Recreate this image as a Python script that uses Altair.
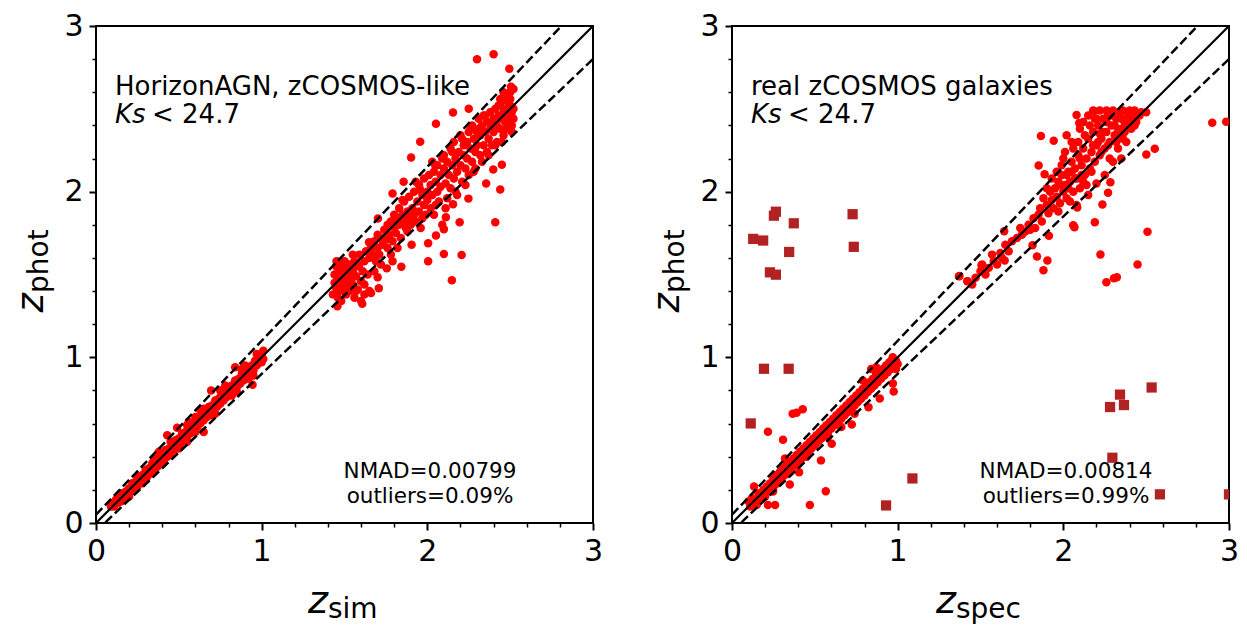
import altair as alt
import pandas as pd

FONT = "DejaVu Sans"
RED = "#ff0000"
DARK = "#b22222"

# ---------------- data ----------------
left_low = [
    (0.09, 0.10), (0.10, 0.12), (0.11, 0.10), (0.12, 0.14), (0.13, 0.12), (0.14, 0.15), (0.15, 0.13),
    (0.16, 0.17), (0.17, 0.15), (0.18, 0.19), (0.19, 0.17), (0.20, 0.21), (0.21, 0.19), (0.22, 0.24),
    (0.23, 0.21), (0.24, 0.25), (0.25, 0.22), (0.26, 0.28), (0.27, 0.25), (0.28, 0.29), (0.29, 0.27),
    (0.30, 0.32), (0.31, 0.28), (0.32, 0.33), (0.33, 0.30), (0.34, 0.36), (0.35, 0.32), (0.36, 0.38),
    (0.37, 0.34), (0.38, 0.40), (0.39, 0.36), (0.40, 0.41), (0.41, 0.38), (0.42, 0.44), (0.43, 0.40),
    (0.44, 0.45), (0.45, 0.42), (0.46, 0.48), (0.47, 0.44), (0.48, 0.50), (0.49, 0.46), (0.50, 0.51),
    (0.51, 0.48), (0.52, 0.54), (0.53, 0.50), (0.54, 0.55), (0.55, 0.52), (0.56, 0.58), (0.57, 0.54),
    (0.58, 0.59), (0.59, 0.56), (0.60, 0.62), (0.61, 0.58), (0.62, 0.63), (0.63, 0.60), (0.64, 0.66),
    (0.65, 0.62), (0.66, 0.67), (0.67, 0.64), (0.68, 0.70), (0.69, 0.66), (0.70, 0.71), (0.71, 0.68),
    (0.72, 0.74), (0.73, 0.70), (0.74, 0.75), (0.75, 0.72), (0.76, 0.78), (0.77, 0.74), (0.78, 0.79),
    (0.79, 0.76), (0.80, 0.82), (0.81, 0.78), (0.82, 0.83), (0.83, 0.80), (0.84, 0.86), (0.85, 0.82),
    (0.86, 0.87), (0.87, 0.84), (0.88, 0.90), (0.89, 0.86), (0.90, 0.91), (0.91, 0.88), (0.92, 0.94),
    (0.93, 0.90), (0.94, 0.95), (0.95, 0.92), (0.96, 0.98), (0.97, 0.95), (0.98, 1.00), (0.99, 0.97),
    (1.00, 1.02), (1.01, 0.99), (1.00, 0.97), (1.01, 1.04),
    (0.65, 0.55), (0.945, 0.835), (0.84, 0.94), (0.43, 0.53), (0.49, 0.575), (0.695, 0.80),
    (0.755, 0.765), (0.56, 0.61), (0.60, 0.64), (0.75, 0.80), (0.90, 0.95), (0.55, 0.49),
    (0.72, 0.66), (0.50, 0.45), (0.30, 0.26), (0.20, 0.16), (0.38, 0.43), (0.63, 0.68),
    (0.82, 0.77), (0.92, 0.87), (0.15, 0.18), (0.25, 0.28), (0.35, 0.39), (0.45, 0.49), (0.55, 0.59),
    (0.65, 0.69), (0.78, 0.83), (0.88, 0.93), (0.97, 1.02), (0.28, 0.24), (0.40, 0.36), (0.60, 0.55),
    (0.70, 0.65), (0.85, 0.79), (0.95, 0.89),
]

left_mid = [
    (1.43, 1.38), (1.44, 1.45), (1.44, 1.50), (1.45, 1.42), (1.45, 1.55), (1.46, 1.36), (1.46, 1.47),
    (1.47, 1.40), (1.47, 1.52), (1.48, 1.44), (1.48, 1.34), (1.49, 1.48), (1.50, 1.42), (1.50, 1.53),
    (1.51, 1.38), (1.51, 1.46), (1.52, 1.50), (1.52, 1.43), (1.53, 1.56), (1.53, 1.40), (1.54, 1.47),
    (1.55, 1.52), (1.55, 1.44), (1.56, 1.36), (1.56, 1.58), (1.57, 1.49), (1.58, 1.41), (1.58, 1.55),
    (1.59, 1.62), (1.60, 1.46), (1.60, 1.34), (1.61, 1.52), (1.62, 1.58), (1.62, 1.44), (1.63, 1.64),
    (1.64, 1.50), (1.65, 1.60), (1.65, 1.40),
    (1.66, 1.66), (1.67, 1.62), (1.68, 1.70), (1.69, 1.58), (1.70, 1.74), (1.70, 1.66), (1.71, 1.62),
    (1.72, 1.72), (1.73, 1.68), (1.74, 1.77), (1.75, 1.71), (1.76, 1.80), (1.76, 1.66), (1.77, 1.74),
    (1.78, 1.82), (1.79, 1.70), (1.80, 1.78), (1.80, 1.86), (1.81, 1.75), (1.82, 1.84), (1.83, 1.80),
    (1.83, 1.90), (1.84, 1.72), (1.85, 1.86), (1.86, 1.82), (1.86, 1.94), (1.87, 1.78), (1.88, 1.88),
    (1.89, 1.84), (1.89, 1.97), (1.90, 1.80), (1.91, 1.90), (1.92, 1.86), (1.92, 2.00), (1.93, 1.82),
    (1.94, 1.94), (1.95, 1.88), (1.95, 2.04), (1.96, 1.78), (1.97, 1.98), (1.98, 1.92), (1.98, 2.08),
    (1.99, 1.86), (2.00, 2.00), (2.00, 1.95),
]

left_high = [
    (2.01, 2.10), (2.02, 1.90), (2.02, 2.04), (2.03, 1.98), (2.04, 2.12), (2.04, 1.86), (2.05, 2.06),
    (2.06, 2.00), (2.06, 2.16), (2.07, 1.94), (2.08, 2.10), (2.08, 2.03), (2.09, 1.80), (2.10, 2.14),
    (2.10, 2.22), (2.11, 2.05), (2.12, 2.18), (2.12, 1.96), (2.13, 2.10), (2.14, 2.26), (2.14, 2.02),
    (2.15, 2.16), (2.16, 2.08), (2.16, 2.30), (2.17, 2.20), (2.18, 2.12), (2.18, 1.98), (2.19, 2.24),
    (2.20, 2.16), (2.20, 2.34), (2.21, 2.06), (2.22, 2.22), (2.22, 2.28), (2.23, 2.14), (2.24, 2.30),
    (2.24, 2.20), (2.25, 2.36), (2.25, 2.10), (2.26, 2.26), (2.27, 2.18), (2.27, 2.40), (2.28, 2.32),
    (2.29, 2.24), (2.29, 2.14), (2.30, 2.36), (2.30, 2.28), (2.31, 2.44), (2.32, 2.22), (2.32, 2.34),
    (2.33, 2.40), (2.34, 2.28), (2.34, 2.46), (2.35, 2.36), (2.36, 2.24), (2.36, 2.42), (2.37, 2.32),
    (2.38, 2.48), (2.38, 2.38), (2.39, 2.28), (2.40, 2.44), (2.40, 2.36), (2.41, 2.50), (2.42, 2.40),
    (2.42, 2.30), (2.43, 2.46), (2.44, 2.38), (2.44, 2.52), (2.45, 2.44), (2.46, 2.34), (2.46, 2.48),
    (2.47, 2.42), (2.47, 2.55), (2.48, 2.38), (2.48, 2.50), (2.49, 2.46), (2.49, 2.58), (2.50, 2.42),
    (2.50, 2.52), (2.51, 2.48), (2.51, 2.36), (2.52, 2.50), (2.52, 2.44), (2.50, 2.60), (2.49, 2.54),
]

left_spread = [
    (1.85, 1.95), (1.88, 1.76), (1.93, 2.06), (1.97, 1.84), (2.03, 2.18), (2.05, 1.92), (2.09, 2.20),
    (2.11, 1.90), (2.15, 2.24), (2.17, 2.00), (2.21, 2.32), (2.23, 2.04), (2.26, 2.38), (2.28, 2.12),
    (2.31, 2.38), (2.33, 2.18), (2.35, 2.46), (2.37, 2.22), (2.39, 2.42), (2.41, 2.28), (2.43, 2.52),
    (2.45, 2.30), (2.47, 2.46), (2.50, 2.56), (2.51, 2.40), (2.52, 2.62), (2.46, 2.60), (2.44, 2.56),
    (1.55, 1.62), (1.50, 1.58), (1.47, 1.56), (1.57, 1.40), (1.62, 1.38), (1.68, 1.52), (1.72, 1.56),
    (1.78, 1.62), (1.82, 1.66),
]

left_scatter = [
    (2.30, 2.80), (2.40, 2.83), (2.495, 2.742), (2.505, 2.634), (2.25, 2.50), (2.155, 2.478),
    (2.052, 2.41), (1.957, 2.302), (1.902, 2.206), (1.857, 2.06), (1.702, 1.838), (1.648, 1.694),
    (1.843, 1.547), (1.905, 1.68), (2.005, 1.58), (2.10, 1.624), (2.148, 1.465), (2.207, 1.617),
    (2.41, 1.816), (2.44, 2.013), (2.355, 2.05), (2.398, 2.134), (2.45, 2.163), (2.248, 1.958),
    (2.195, 1.816), (2.10, 1.773), (2.155, 1.924), (1.755, 1.537), (1.70, 1.484), (1.707, 1.417),
    (1.66, 1.388), (1.607, 1.323), (1.457, 1.309), (1.452, 1.58), (1.51, 1.537), (1.588, 1.556),
    (1.79, 1.58), (2.005, 1.688), (2.052, 1.736), (2.112, 1.845), (1.79, 1.989), (1.957, 2.013),
    (2.048, 2.158),
]

right_low = [
    (0.10, 0.13), (0.11, 0.10), (0.12, 0.15), (0.13, 0.12), (0.14, 0.14), (0.15, 0.11), (0.16, 0.18),
    (0.17, 0.15), (0.18, 0.17), (0.19, 0.20), (0.20, 0.16), (0.21, 0.22), (0.22, 0.19), (0.23, 0.24),
    (0.24, 0.21), (0.25, 0.27), (0.26, 0.23), (0.27, 0.29), (0.28, 0.25), (0.29, 0.31), (0.30, 0.27),
    (0.31, 0.33), (0.32, 0.29), (0.33, 0.35), (0.34, 0.31), (0.35, 0.37), (0.36, 0.33), (0.37, 0.39),
    (0.38, 0.35), (0.39, 0.41), (0.40, 0.37), (0.41, 0.43), (0.42, 0.39), (0.43, 0.45), (0.44, 0.41),
    (0.45, 0.47), (0.46, 0.43), (0.47, 0.49), (0.48, 0.45), (0.49, 0.51), (0.50, 0.47), (0.51, 0.53),
    (0.52, 0.49), (0.53, 0.55), (0.54, 0.51), (0.55, 0.57), (0.56, 0.53), (0.57, 0.59), (0.58, 0.55),
    (0.59, 0.61), (0.60, 0.57), (0.61, 0.63), (0.62, 0.59), (0.63, 0.65), (0.64, 0.61), (0.65, 0.67),
    (0.66, 0.63), (0.67, 0.69), (0.68, 0.65), (0.69, 0.71), (0.70, 0.67), (0.71, 0.73), (0.72, 0.69),
    (0.73, 0.75), (0.74, 0.71), (0.75, 0.77), (0.76, 0.73), (0.77, 0.79), (0.78, 0.75), (0.79, 0.81),
    (0.80, 0.77), (0.81, 0.83), (0.82, 0.79), (0.83, 0.85), (0.84, 0.81), (0.85, 0.87), (0.86, 0.83),
    (0.87, 0.90), (0.88, 0.85), (0.89, 0.92), (0.90, 0.87), (0.91, 0.93), (0.92, 0.89), (0.93, 0.95),
    (0.94, 0.91), (0.95, 0.97), (0.96, 0.93), (0.97, 0.99), (0.98, 0.95), (0.99, 0.98), (1.00, 0.96),
    (0.97, 1.00), (0.99, 0.93), (0.84, 0.93), (0.87, 0.94),
    (0.976, 0.794), (0.971, 0.842), (0.892, 0.751), (0.824, 0.698), (0.723, 0.594), (0.602, 0.479),
    (0.537, 0.378), (0.566, 0.192), (0.47, 0.108), (0.349, 0.233), (0.405, 0.306), (0.366, 0.659),
    (0.39, 0.666), (0.427, 0.686), (0.217, 0.551), (0.308, 0.503), (0.133, 0.221), (0.217, 0.108),
    (0.26, 0.108), (0.248, 0.19), (0.277, 0.269), (0.66, 0.58), (0.74, 0.66), (0.45, 0.40),
    (0.58, 0.52), (0.32, 0.39), (0.79, 0.86),
]

right_high = [
    (1.37, 1.49), (1.42, 1.46), (1.45, 1.44), (1.47, 1.48), (1.50, 1.52), (1.51, 1.56), (1.53, 1.50),
    (1.55, 1.54), (1.57, 1.62), (1.58, 1.58), (1.60, 1.56), (1.62, 1.63), (1.63, 1.60), (1.65, 1.68),
    (1.67, 1.64), (1.69, 1.70), (1.72, 1.72), (1.74, 1.78), (1.75, 1.74), (1.77, 1.76), (1.79, 1.80),
    (1.80, 1.77), (1.82, 1.84), (1.83, 1.78), (1.85, 1.86), (1.86, 1.90), (1.87, 1.82), (1.88, 1.96),
    (1.90, 1.92), (1.91, 1.87), (1.92, 2.00), (1.93, 1.95), (1.94, 1.90), (1.95, 2.02), (1.96, 1.97),
    (1.97, 2.06), (1.98, 1.93), (1.99, 2.10), (2.00, 2.00), (2.01, 2.04), (2.02, 1.96), (2.03, 2.12),
    (2.04, 2.06), (2.05, 2.18), (2.06, 2.00), (2.07, 2.14), (2.08, 2.08), (2.09, 2.22), (2.10, 2.02),
    (2.11, 2.16), (2.12, 2.26), (2.13, 2.10), (2.14, 2.20), (2.15, 2.32), (2.16, 2.14), (2.17, 2.24),
    (2.18, 2.36), (2.18, 2.49), (2.19, 2.18), (2.20, 2.28), (2.21, 2.40), (2.22, 2.22), (2.22, 2.49),
    (2.23, 2.32), (2.24, 2.44), (2.25, 2.26), (2.26, 2.36), (2.26, 2.49), (2.27, 2.46), (2.28, 2.30),
    (2.29, 2.40), (2.30, 2.49), (2.31, 2.34), (2.32, 2.44), (2.33, 2.26), (2.34, 2.48), (2.35, 2.38),
    (2.36, 2.49), (2.37, 2.42), (2.38, 2.30), (2.39, 2.46), (2.40, 2.49), (2.41, 2.38), (2.42, 2.44),
    (2.43, 2.49), (2.44, 2.47), (2.46, 2.46), (2.47, 2.48), (2.50, 2.48), (2.00, 2.20), (2.05, 2.30),
    (2.10, 2.38), (2.02, 2.34), (2.12, 2.42), (2.25, 2.10), (2.30, 2.18), (2.20, 2.05), (2.35, 2.20),
    (2.15, 1.98), (1.97, 1.88), (2.08, 1.92),
]

right_spread = [
    (1.90, 2.02), (1.93, 2.08), (1.96, 2.12), (1.99, 2.16), (2.01, 2.24), (2.03, 2.02), (2.04, 1.94),
    (2.06, 2.26), (2.07, 2.08), (2.09, 2.30), (2.11, 2.10), (2.13, 2.34), (2.14, 2.04), (2.16, 2.40),
    (2.17, 2.12), (2.19, 2.44), (2.21, 2.30), (2.23, 2.24), (2.24, 2.36), (2.26, 2.42), (2.28, 2.20),
    (2.29, 2.46), (2.31, 2.40), (2.33, 2.36), (2.35, 2.44), (2.37, 2.36), (2.39, 2.40), (2.41, 2.44),
    (2.44, 2.42), (2.20, 2.44), (2.15, 2.46), (2.05, 2.12), (1.98, 2.04), (2.10, 2.20), (2.18, 2.28),
    (2.22, 2.35), (2.27, 2.28), (2.32, 2.30), (2.36, 2.32), (2.43, 2.40), (2.12, 2.06), (2.02, 2.10),
]

right_scatter = [
    (2.899, 2.416), (2.983, 2.422), (2.552, 2.259), (2.501, 2.225), (2.508, 1.758), (2.448, 1.561),
    (2.26, 1.453), (2.306, 1.477), (2.323, 1.484), (2.224, 1.621), (2.19, 1.816), (2.236, 1.922),
    (2.284, 2.057), (2.27, 1.994), (1.865, 2.336), (1.851, 2.158), (1.887, 2.105), (1.942, 2.307),
    (2.08, 2.463), (2.186, 2.487), (2.096, 2.415), (1.913, 1.734), (1.88, 1.525), (1.904, 1.585),
    (1.841, 1.609), (1.814, 1.677), (2.06, 1.797), (2.067, 1.785), (2.084, 1.905), (1.373, 1.491),
    (1.422, 1.46), (1.506, 1.556), (1.643, 1.761), (1.646, 1.585),
]

right_outliers = [
    (0.128, 1.715), (0.188, 1.705), (0.253, 1.855), (0.265, 1.879), (0.373, 1.809), (0.345, 1.636),
    (0.229, 1.513), (0.265, 1.499), (0.728, 1.864), (0.735, 1.667), (0.193, 0.931), (0.342, 0.931),
    (0.113, 0.601), (1.089, 0.269), (0.930, 0.106), (2.282, 0.700), (2.342, 0.775), (2.366, 0.712),
    (2.533, 0.818), (2.296, 0.394), (2.583, 0.173), (3.0, 0.173),
]

line_x = [0.0, 3.0]
BAND = 0.05  # |dz|/(1+z) outlier limit
ticks = [round(i * 0.2, 1) for i in range(16)]

W = 497
H = 497


def df(pairs):
    return pd.DataFrame(pairs, columns=["x", "y"])


def axis():
    major = "abs(datum.value - round(datum.value)) < 0.001"
    return alt.Axis(
        values=ticks, title=None, domain=False, grid=False,
        labelExpr=f"{major} ? format(datum.value, 'd') : ''",
        labelFontSize=30, labelFont=FONT, labelColor="black",
        tickColor="black",
        tickSize={"condition": {"test": major, "value": 7}, "value": 4},
        tickWidth={"condition": {"test": major, "value": 2}, "value": 1.5},
        labelPadding=6, labelFlush=False, labelOverlap=False,
    )


def xy():
    sc = alt.Scale(domain=[0, 3], nice=False, zero=False)
    return dict(x=alt.X("x:Q", scale=sc, axis=axis()),
                y=alt.Y("y:Q", scale=sc, axis=axis()))


def label(text, x, y, size, angle=0, align="left", style="normal"):
    return alt.Chart(pd.DataFrame({"t": [text]})).mark_text(
        text=text, fontSize=size, font=FONT, align=align, baseline="alphabetic",
        angle=angle, fontStyle=style, color="black",
    ).encode(x=alt.value(x), y=alt.value(y))


def lines():
    solid = df([(x, x) for x in line_x])
    upper = df([(x, x + BAND * (1 + x)) for x in line_x])
    lower = df([(x, x - BAND * (1 + x)) for x in line_x])
    s = alt.Chart(solid).mark_line(color="black", strokeWidth=2.2, clip=True).encode(**xy())
    u = alt.Chart(upper).mark_line(color="black", strokeWidth=2.5, strokeDash=[9, 4], clip=True).encode(**xy())
    l = alt.Chart(lower).mark_line(color="black", strokeWidth=2.5, strokeDash=[9, 4], clip=True).encode(**xy())
    return [s, u, l]


def panel(points, outliers, title1, nmad, outl, sub, split_x):
    layers = [alt.Chart(df(points)).mark_circle(size=72, color=RED, opacity=1, clip=True).encode(**xy())]
    if outliers:
        layers.append(alt.Chart(df(outliers)).mark_square(size=105, color=DARK, opacity=1, clip=True).encode(**xy()))
    layers += lines()
    layers += [
        label(title1, 19, 69, 26),
        label("Ks", 19, 97, 26, style="italic"),
        label("< 24.7", 56, 97, 26),
        label(nmad, 334, 452, 21.5, align="center"),
        label(outl, 334, 477, 21.5, align="center"),
        label("z", split_x, 587, 38, align="right", style="italic"),
        label(sub, split_x, 592, 28),
        label("z", -53, 267, 37, angle=270, align="right", style="italic"),
        label("phot", -48, 267, 28, angle=270),
    ]
    return alt.layer(*layers).properties(width=W, height=H)


left = panel(left_low + left_mid + left_high + left_spread + left_scatter, None,
             "HorizonAGN, zCOSMOS-like", "NMAD=0.00799", "outliers=0.09%", "sim", 232)
right = panel(right_low + right_high + right_spread + right_scatter, right_outliers,
              "real zCOSMOS galaxies", "NMAD=0.00814", "outliers=0.99%", "spec", 224)

chart = alt.hconcat(left, right, spacing=139, bounds="flush").properties(
    autosize=alt.AutoSizeParams(type="none"),
    padding={"left": 88, "top": 18, "right": 1143, "bottom": 591},
).configure_view(stroke="black", strokeWidth=2)

chart.save("out.html", embed_options={"renderer": "svg", "actions": False})
